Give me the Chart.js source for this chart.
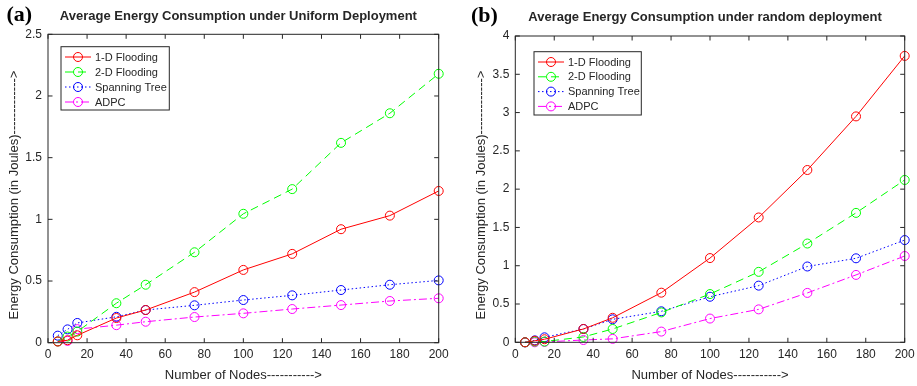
<!DOCTYPE html>
<html>
<head>
<meta charset="utf-8">
<script src="https://cdn.jsdelivr.net/npm/chart.js@4.4.1/dist/chart.umd.min.js"></script>
<style>
  html, body { margin: 0; padding: 0; background: #ffffff; }
  #wrap { position: relative; width: 917px; height: 386px; overflow: hidden; background: #fff; }
  canvas { position: absolute; top: 0; }
</style>
</head>
<body>
<div id="wrap">
  <canvas id="c1" width="458" height="386" style="left:0px"></canvas>
  <canvas id="c2" width="459" height="386" style="left:458px"></canvas>
</div>
<script>
// ---------- data ----------
const xNodes = [5, 10, 15, 35, 50, 75, 100, 125, 150, 175, 200];
const seriesLabels = ['1-D Flooding', '2-D Flooding', 'Spanning Tree', 'ADPC'];

// (a) uniform deployment
const flood1Uniform = [0.01, 0.02, 0.06, 0.20, 0.265, 0.41, 0.59, 0.72, 0.92, 1.03, 1.23];
const flood2Uniform = [0.01, 0.05, 0.09, 0.32, 0.47, 0.733, 1.045, 1.245, 1.62, 1.86, 2.18];
const spanUniform   = [0.057, 0.108, 0.16, 0.21, 0.265, 0.303, 0.346, 0.384, 0.427, 0.47, 0.505];
const adpcUniform   = [0.01, 0.015, 0.11, 0.142, 0.17, 0.208, 0.238, 0.273, 0.305, 0.338, 0.36];

// (b) random deployment
const flood1Random = [0, 0.02, 0.04, 0.174, 0.32, 0.648, 1.10, 1.63, 2.25, 2.95, 3.74];
const flood2Random = [0, 0.01, 0.01, 0.07, 0.174, 0.39, 0.63, 0.92, 1.29, 1.69, 2.12];
const spanRandom   = [0, 0.025, 0.065, 0.174, 0.30, 0.405, 0.595, 0.74, 0.99, 1.097, 1.335];
const adpcRandom   = [0, 0, 0.005, 0.03, 0.045, 0.14, 0.31, 0.43, 0.645, 0.88, 1.127];

const titleUniform = 'Average Energy Consumption under Uniform Deployment';
const titleRandom  = 'Average Energy Consumption under random deployment';
const xTitle = 'Number of Nodes----------->';
const yTitle = 'Energy Consumption (in Joules)------------->';

// ---------- styles ----------
const FONT = '"Liberation Sans", Arial, Helvetica, sans-serif';
const TXT = '#262626';
const seriesStyles = [
  { color: '#ff0000', dash: [] },
  { color: '#00ff00', dash: [8, 5] },
  { color: '#0000ff', dash: [1.5, 2.5] },
  { color: '#ff00ff', dash: [8, 3, 2, 3] }
];

function buildDatasets(seriesList) {
  return seriesList.map((vals, i) => ({
    label: seriesLabels[i],
    data: xNodes.map((x, j) => ({ x: x, y: vals[j] })),
    borderColor: seriesStyles[i].color,
    borderDash: seriesStyles[i].dash,
    borderWidth: 1,
    pointRadius: 4.5,
    pointHoverRadius: 4.5,
    pointBorderWidth: 1,
    pointBorderColor: seriesStyles[i].color,
    pointBackgroundColor: 'rgba(0,0,0,0)',
    fill: false,
    tension: 0,
    clip: false
  }));
}

const decorPlugin = {
  id: 'decor',
  afterDraw(chart, args, o) {
    const { ctx, chartArea: a, scales: { x, y } } = chart;
    ctx.save();
    // frame
    ctx.strokeStyle = TXT;
    ctx.lineWidth = 1;
    ctx.setLineDash([]);
    ctx.strokeRect(a.left, a.top, a.right - a.left, a.bottom - a.top);
    const tl = 4.5;
    ctx.beginPath();
    x.ticks.forEach(t => {
      const px = x.getPixelForValue(t.value);
      ctx.moveTo(px, a.bottom); ctx.lineTo(px, a.bottom - tl);
      ctx.moveTo(px, a.top); ctx.lineTo(px, a.top + tl);
    });
    y.ticks.forEach(t => {
      const py = y.getPixelForValue(t.value);
      ctx.moveTo(a.left, py); ctx.lineTo(a.left + tl, py);
      ctx.moveTo(a.right, py); ctx.lineTo(a.right - tl, py);
    });
    ctx.stroke();

    // legend
    const L = o.legend;
    ctx.fillStyle = '#ffffff';
    ctx.fillRect(L.x, L.y, L.w, L.h);
    ctx.strokeStyle = TXT;
    ctx.lineWidth = 1;
    ctx.strokeRect(L.x, L.y, L.w, L.h);
    ctx.font = '11px ' + FONT;
    ctx.textBaseline = 'middle';
    ctx.textAlign = 'left';
    chart.data.datasets.forEach((ds, i) => {
      const ry = L.y + L.first + i * L.row;
      ctx.strokeStyle = ds.borderColor;
      ctx.setLineDash(ds.borderDash);
      ctx.beginPath();
      ctx.moveTo(L.x + 4, ry); ctx.lineTo(L.x + 30, ry);
      ctx.stroke();
      ctx.setLineDash([]);
      ctx.beginPath();
      ctx.arc(L.x + 17, ry, 4.5, 0, Math.PI * 2);
      ctx.stroke();
      ctx.fillStyle = TXT;
      ctx.fillText(ds.label, L.x + 34, ry + 0.5);
    });

    // titles
    ctx.fillStyle = TXT;
    ctx.font = 'bold 13px ' + FONT;
    ctx.textAlign = 'center';
    ctx.textBaseline = 'middle';
    ctx.fillText(o.title, o.titleX, o.titleY);
    ctx.fillStyle = '#000';
    ctx.font = 'bold 22px "Liberation Serif", "Times New Roman", serif';
    ctx.textAlign = 'left';
    ctx.fillText(o.panel, o.panelX, o.panelY);

    // y axis title
    ctx.fillStyle = TXT;
    ctx.font = '13px ' + FONT;
    ctx.textAlign = 'center';
    ctx.textBaseline = 'middle';
    ctx.translate(o.yTitleX, o.yTitleY);
    ctx.rotate(-Math.PI / 2);
    ctx.fillText(yTitle, 0, 0);
    ctx.restore();
  }
};

function makeChart(id, seriesList, yMax, geom) {
  return new Chart(document.getElementById(id), {
    type: 'line',
    data: { datasets: buildDatasets(seriesList) },
    plugins: [decorPlugin],
    options: {
      responsive: false,
      animation: false,
      devicePixelRatio: 1,
      layout: { padding: { left: 0, top: geom.top, right: geom.right, bottom: 0 } },
      plugins: {
        legend: { display: false },
        tooltip: { enabled: false },
        title: { display: false },
        decor: geom.decor
      },
      scales: {
        x: {
          type: 'linear',
          min: 0, max: 200,
          grid: { display: false, drawTicks: false },
          border: { display: false },
          ticks: { stepSize: 20, padding: 5, color: TXT, font: { size: 12, family: FONT }, maxRotation: 0, autoSkip: false,
                   callback: v => String(v) },
          title: { display: true, text: xTitle, color: TXT, font: { size: 13, family: FONT }, padding: { top: 0, bottom: 3.2 } },
          afterFit(s) { s.height = geom.xHeight; s.paddingLeft = 0; s.paddingRight = 0; }
        },
        y: {
          type: 'linear',
          min: 0, max: yMax,
          grid: { display: false, drawTicks: false },
          border: { display: false },
          ticks: { stepSize: 0.5, padding: 6, color: TXT, font: { size: 12, family: FONT },
                   callback: v => String(Math.round(v * 10) / 10) },
          afterFit(s) { s.width = geom.yWidth; s.paddingTop = 0; s.paddingBottom = 0; }
        }
      }
    }
  });
}

makeChart('c1', [flood1Uniform, flood2Uniform, spanUniform, adpcUniform], 2.5, {
  top: 34.3, right: 19.3, xHeight: 43.3, yWidth: 48,
  decor: {
    title: titleUniform, titleX: 238.4, titleY: 16.5,
    panel: '(a)', panelX: 6.5, panelY: 15.5,
    yTitleX: 14.5, yTitleY: 195,
    legend: { x: 61, y: 46.7, w: 108.3, h: 63.3, first: 10.3, row: 15 }
  }
});

makeChart('c2', [flood1Random, flood2Random, spanRandom, adpcRandom], 4, {
  top: 36, right: 459 - 446.7, xHeight: 43.7, yWidth: 57.3,
  decor: {
    title: titleRandom, titleX: 247, titleY: 17,
    panel: '(b)', panelX: 13, panelY: 16,
    yTitleX: 23.7, yTitleY: 195,
    legend: { x: 76, y: 51.7, w: 107.3, h: 63.3, first: 10.3, row: 14.8 }
  }
});
</script>
</body>
</html>
